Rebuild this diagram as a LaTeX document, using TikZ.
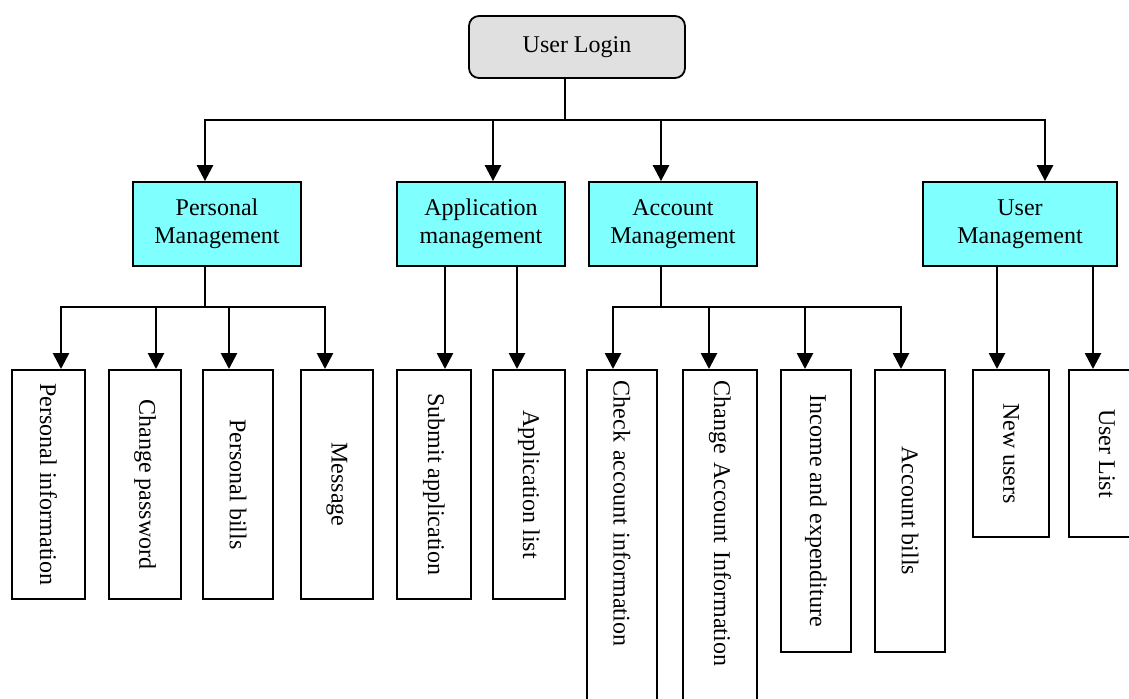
\documentclass[tikz,border=0pt]{standalone}
\usepackage{fontspec}
\setmainfont{Liberation Serif}
\usetikzlibrary{arrows.meta,calc}
\definecolor{midcyan}{HTML}{80FFFF}
\definecolor{logingray}{HTML}{E0E0E0}
\begin{document}
\begin{tikzpicture}[x=0.5pt,y=-0.5pt,
  font=\fontsize{12}{14}\selectfont,
  box/.style={draw, line width=0.9pt, align=center, inner sep=0pt},
  topbox/.style={box, fill=logingray, rounded corners=5pt, minimum width=108pt, minimum height=31pt},
  mid/.style={box, fill=midcyan, minimum height=42pt, minimum width=84pt},
  leaf/.style={box, rotate=-90, minimum height=36pt, anchor=west},
  longleaf/.style={leaf, text width=170pt, inner xsep=5.5pt, align=left},
  ln/.style={line width=1.35pt, line cap=rect},
  arr/.style={ln, -{Triangle[width=8pt,length=8pt]}}]
\useasboundingbox (0,0) rectangle (1129,698);
\clip (0,0) rectangle (1129,698);

% nodes
\node[topbox] (login) at (577,47) {User Login};

\node[mid] (pm) at (217,224) {Personal\\Management};
\node[mid] (am) at (481,224) {Application\\management};
\node[mid] (acm) at (673,224) {Account\\Management};
\node[mid, minimum width=97pt] (um) at (1020,224) {User\\Management};

\node[leaf, minimum width=114.5pt, minimum height=36.5pt] (pi) at (48.5,369) {Personal information};
\node[leaf, minimum width=114.5pt] (cp) at (145,369) {Change password};
\node[leaf, minimum width=114.5pt, minimum height=35pt] (pb) at (238,369) {Personal bills};
\node[leaf, minimum width=114.5pt] (msg) at (337,369) {Message};
\node[leaf, minimum width=114.5pt, minimum height=37pt] (sa) at (434,369) {Submit application};
\node[leaf, minimum width=114.5pt] (al) at (529,369) {Application list};
\node[longleaf, minimum height=35pt] (cai) at (622,369) {Check account information};
\node[longleaf, minimum height=37pt] (chai) at (720,369) {Change Account Information};
\node[leaf, minimum width=141pt, minimum height=35pt] (ie) at (816,369) {Income and expenditure};
\node[leaf, minimum width=141pt, minimum height=35pt] (ab) at (910,369) {Account bills};
\node[leaf, minimum width=83.5pt, minimum height=38pt] (nu) at (1011,369) {New users};
\node[leaf, minimum width=83.5pt, minimum height=38pt] (ul) at (1107,369) {User List};

% top level connectors
\coordinate (j0) at (565,120);
\coordinate (t1) at (205,120);
\coordinate (t2) at (493,120);
\coordinate (t3) at (661,120);
\coordinate (t4) at (1045,120);
\draw[ln] (login.south -| j0) -- (j0);
\draw[ln] (t1) -- (t4);
\draw[arr] (t1) -- (pm.north -| t1);
\draw[arr] (t2) -- (am.north -| t2);
\draw[arr] (t3) -- (acm.north -| t3);
\draw[arr] (t4) -- (um.north -| t4);

% personal management branch
\coordinate (j1) at (205,307);
\coordinate (p1) at (61,307);
\coordinate (p2) at (156,307);
\coordinate (p3) at (229,307);
\coordinate (p4) at (325,307);
\draw[ln] (pm.south -| j1) -- (j1);
\draw[ln] (p1) -- (p4);
\draw[arr] (p1) -- (pi.west -| p1);
\draw[arr] (p2) -- (cp.west -| p2);
\draw[arr] (p3) -- (pb.west -| p3);
\draw[arr] (p4) -- (msg.west -| p4);

% application management branch
\coordinate (a1) at (445,266);
\coordinate (a2) at (517,266);
\draw[arr] (am.south -| a1) -- (sa.west -| a1);
\draw[arr] (am.south -| a2) -- (al.west -| a2);

% account management branch
\coordinate (j2) at (661,307);
\coordinate (c1) at (613,307);
\coordinate (c2) at (709,307);
\coordinate (c3) at (805,307);
\coordinate (c4) at (901,307);
\draw[ln] (acm.south -| j2) -- (j2);
\draw[ln] (c1) -- (c4);
\draw[arr] (c1) -- (cai.west -| c1);
\draw[arr] (c2) -- (chai.west -| c2);
\draw[arr] (c3) -- (ie.west -| c3);
\draw[arr] (c4) -- (ab.west -| c4);

% user management branch
\coordinate (u1) at (997,266);
\coordinate (u2) at (1093,266);
\draw[arr] (um.south -| u1) -- (nu.west -| u1);
\draw[arr] (um.south -| u2) -- (ul.west -| u2);
\end{tikzpicture}
\end{document}
